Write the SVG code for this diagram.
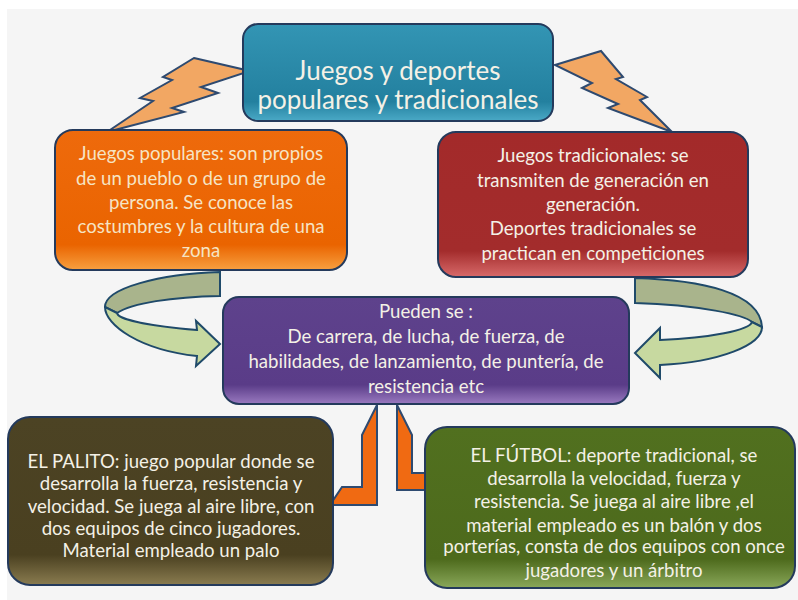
<svg xmlns="http://www.w3.org/2000/svg" width="798" height="600" viewBox="0 0 798 600">
<defs>
<style>
.box{stroke:#243a5c;stroke-width:2}
.t{font-family:Lato,"Liberation Sans",sans-serif;text-anchor:middle;fill:#f4f1e6;font-size:18.6px}
.c{fill:#f6e4c4}
.h{font-size:26px}
.bolt{fill:#f2a763;stroke:#2e4a70;stroke-width:2;stroke-linejoin:miter}
.back{fill:#a9b48c;stroke:#1f4a6a;stroke-width:2}
.front{fill:#c7d9a0;stroke:#1f4a6a;stroke-width:2}
.conn{fill:#f06a12;stroke:#2e4a70;stroke-width:2}
</style>
<linearGradient id="gTeal" x1="0" y1="0" x2="0" y2="1"><stop offset="0" stop-color="#3395b4"/><stop offset="0.8" stop-color="#23809f"/><stop offset="1" stop-color="#4aa9c6"/></linearGradient>
<linearGradient id="gOrange" x1="0" y1="0" x2="0" y2="1"><stop offset="0" stop-color="#ee6a0c"/><stop offset="0.82" stop-color="#ea6400"/><stop offset="1" stop-color="#f7a040"/></linearGradient>
<linearGradient id="gRed" x1="0" y1="0" x2="0" y2="1"><stop offset="0" stop-color="#a32a2a"/><stop offset="0.82" stop-color="#a32c2c"/><stop offset="1" stop-color="#d86a6a"/></linearGradient>
<linearGradient id="gPurple" x1="0" y1="0" x2="0" y2="1"><stop offset="0" stop-color="#5e428c"/><stop offset="0.82" stop-color="#5a3c88"/><stop offset="1" stop-color="#9a7ac0"/></linearGradient>
<linearGradient id="gOlive" x1="0" y1="0" x2="0" y2="1"><stop offset="0" stop-color="#4c4324"/><stop offset="0.82" stop-color="#4a4020"/><stop offset="1" stop-color="#8a7c50"/></linearGradient>
<linearGradient id="gGreen" x1="0" y1="0" x2="0" y2="1"><stop offset="0" stop-color="#51701f"/><stop offset="0.82" stop-color="#4d6a1c"/><stop offset="1" stop-color="#8aa85a"/></linearGradient>
</defs>
<rect x="0" y="0" width="798" height="600" fill="#ffffff"/>
<rect x="7" y="9" width="791" height="591" fill="#f5f5f5"/>

<g id="connectors">
<polygon class="bolt" points="194,58 250,71 201,87 218,93 172,108 184,112 107,132 153,101 140,98 172,80 163,77"/>
<polygon class="bolt" points="555,65 601,51 623,77 616,79 647,97 640,100 672,132 608,108 618,104 582,88 592,83"/>
<path class="back" d="M220,272 C160,274 105,288 105,307 L117,313 C132,303 172,297 220,296 Z"/>
<path class="front" d="M105,307 C105,325 140,350 197,356 L196,366 L220,344 L196,321 L197,330 C152,326 118,320 117,313 Z"/>
<path class="back" d="M635,278 C700,280 760,292 762,327 L752,322 C745,315 700,305 635,303 Z"/>
<path class="front" d="M762,327 C762,345 720,362 660,365 L660,378 L635,353 L660,328 L660,340 C710,338 750,330 752,322 Z"/>
<polygon class="conn" points="377,405 362,435 362,487 342,487 330,505 377,505"/>
<polygon class="conn" points="397,405 397,490 432,490 440,481 430,473 412,473 412,435"/>
</g>

<g id="top">
<rect class="box" x="243" y="24" width="310" height="97" rx="15" fill="url(#gTeal)"/>
<text class="t h" x="398" y="80">Juegos y deportes</text>
<text class="t h" x="398" y="109">populares y tradicionales</text>
</g>

<g id="populares">
<rect class="box" x="55" y="130" width="292" height="140" rx="18" fill="url(#gOrange)"/>
<text class="t c" x="201" y="160">Juegos populares: son propios</text>
<text class="t c" x="201" y="185">de un pueblo o de un grupo de</text>
<text class="t c" x="201" y="209">persona. Se conoce las</text>
<text class="t c" x="201" y="233">costumbres y la cultura de una</text>
<text class="t c" x="201" y="257">zona</text>
</g>

<g id="tradicionales">
<rect class="box" x="438" y="132" width="310" height="145" rx="18" fill="url(#gRed)"/>
<text class="t" x="593" y="162">Juegos tradicionales: se</text>
<text class="t" x="593" y="187">transmiten de generación en</text>
<text class="t" x="593" y="211">generación.</text>
<text class="t" x="593" y="235">Deportes tradicionales  se</text>
<text class="t" x="593" y="260">practican en competiciones</text>
</g>

<g id="pueden">
<rect class="box" x="223" y="297" width="406" height="107" rx="16" fill="url(#gPurple)"/>
<text class="t" x="426" y="318">Pueden se :</text>
<text class="t" x="426" y="343">De carrera, de lucha, de fuerza, de</text>
<text class="t" x="426" y="368">habilidades, de lanzamiento, de puntería, de</text>
<text class="t" x="426" y="393">resistencia etc</text>
</g>

<g id="palito">
<rect class="box" x="8" y="417" width="325" height="168" rx="22" fill="url(#gOlive)"/>
<text class="t" x="171" y="468">EL PALITO: juego popular  donde se</text>
<text class="t" x="171" y="490">desarrolla la fuerza, resistencia y</text>
<text class="t" x="171" y="513">velocidad. Se juega al aire libre, con</text>
<text class="t" x="171" y="535">dos equipos de cinco jugadores.</text>
<text class="t" x="171" y="557">Material empleado un palo</text>
</g>

<g id="futbol">
<rect class="box" x="425" y="427" width="370" height="161" rx="22" fill="url(#gGreen)"/>
<text class="t" x="614" y="462">EL FÚTBOL: deporte tradicional, se</text>
<text class="t" x="614" y="485">desarrolla la velocidad, fuerza y</text>
<text class="t" x="614" y="508">resistencia. Se juega al aire libre ,el</text>
<text class="t" x="614" y="532">material empleado es un balón y dos</text>
<text class="t" x="614" y="553">porterías, consta de dos equipos con once</text>
<text class="t" x="614" y="577">jugadores y un árbitro</text>
</g>
</svg>
